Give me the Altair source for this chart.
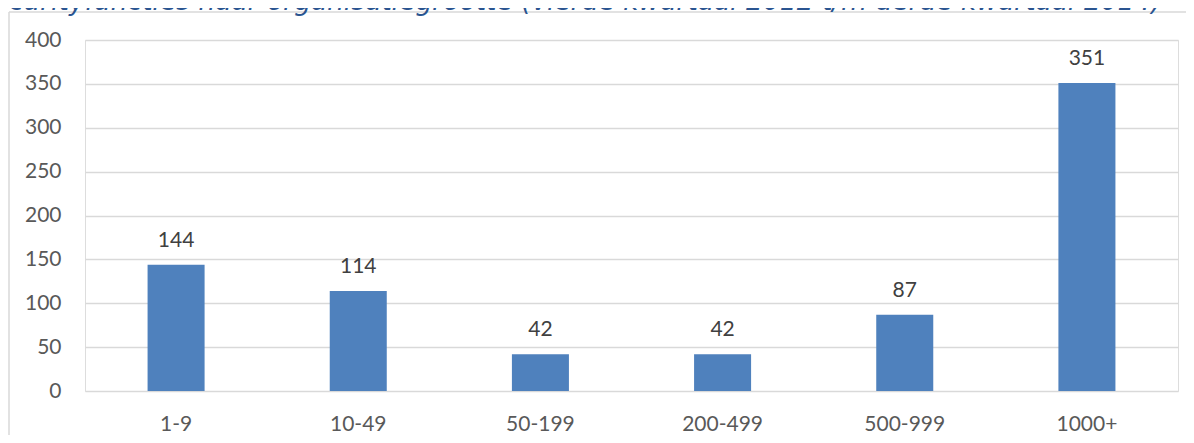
import altair as alt
import pandas as pd

categories = ["1-9", "10-49", "50-199", "200-499", "500-999", "1000+"]
values = [144, 114, 42, 42, 87, 351]
y_ticks = [0, 50, 100, 150, 200, 250, 300, 350, 400]
title_text = "curityfuncties naar organisatiegrootte (vierde kwartaal 2012 t/m derde kwartaal 2014)"

df = pd.DataFrame({"cat": categories, "val": values})
one = pd.DataFrame({"t": [title_text]})

W, H = 1093, 351
LABEL_FONT = "Lato"

x_enc = alt.X(
    "cat:N",
    sort=categories,
    scale=alt.Scale(paddingInner=0.687, paddingOuter=0.3435),
    axis=alt.Axis(
        title=None, labelAngle=0, domain=False, ticks=False, grid=False,
        labelPadding=22, labelFont=LABEL_FONT, labelFontSize=21,
        labelColor="#595959", labelBaseline="top",
    ),
)
y_enc = alt.Y(
    "val:Q",
    scale=alt.Scale(domain=[0, 400], nice=False),
    axis=alt.Axis(
        title=None, values=y_ticks, domain=False, ticks=False, grid=True,
        gridColor="#D9D9D9", gridWidth=1.5, labelPadding=24,
        labelFont=LABEL_FONT, labelFontSize=21, labelColor="#595959",
    ),
)

bars = alt.Chart(df).mark_bar(color="#4F81BD").encode(x=x_enc, y=y_enc)

labels = alt.Chart(df).mark_text(
    dy=-18, baseline="alphabetic", align="center",
    font=LABEL_FONT, fontSize=21, color="#404040",
).encode(
    x=alt.X("cat:N", sort=categories),
    y=alt.Y("val:Q"),
    text=alt.Text("val:Q"),
)

border_top = alt.Chart(one).mark_rule(color="#D9D9D9", strokeWidth=1.5).encode(
    x=alt.value(-76), x2=alt.value(W + 20), y=alt.value(-28)
)
border_left = alt.Chart(one).mark_rule(color="#D9D9D9", strokeWidth=1.5).encode(
    x=alt.value(-76), y=alt.value(-28), y2=alt.value(H + 60)
)

title = alt.Chart(one).mark_text(
    align="left", baseline="alphabetic", font="DejaVu Sans",
    fontStyle="italic", fontSize=26.5, color="#2A5490",
).encode(
    x=alt.value(-76), y=alt.value(-30), text="t:N"
)

chart = alt.layer(border_top, border_left, bars, labels, title).properties(
    width=W, height=H,
    autosize=alt.AutoSizeParams(type="none"),
    padding={"left": 77, "top": 32, "right": 8, "bottom": 44},
).configure_view(stroke=None).configure(background="white")

chart.save("out.html", embed_options={"renderer": "svg", "actions": False})
